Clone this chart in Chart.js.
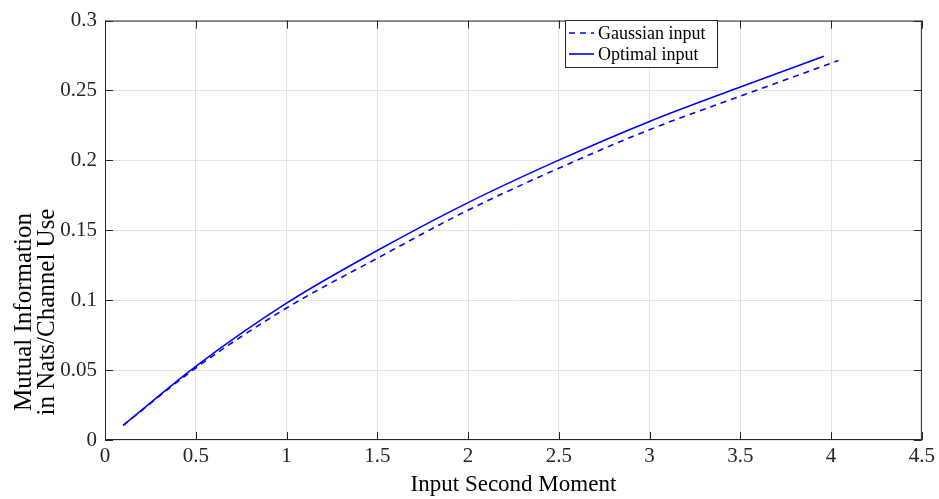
<!DOCTYPE html>
<html>
<head>
<meta charset="utf-8">
<title>Mutual information vs input second moment</title>
<script src="https://cdn.jsdelivr.net/npm/chart.js@4.4.1/dist/chart.umd.min.js"></script>
<style>
  html, body { margin: 0; padding: 0; background: #fff; }
  #wrap { width: 939px; height: 499px; position: relative; }
</style>
</head>
<body>
<div id="wrap"><canvas id="miChart"></canvas></div>
<script>
// curve samples (input second moment -> nats per channel use)
const gaussianX = [0.1, 0.5, 1, 1.5, 2, 2.5, 3, 3.5, 4.04];
const gaussianY = [0.0105, 0.0515, 0.0944, 0.1300, 0.1644, 0.1944, 0.2220, 0.2460, 0.2714];
const optimalX = [0.1, 0.5, 1, 1.5, 2, 2.5, 3, 3.5, 3.96];
const optimalY = [0.0105, 0.0527, 0.0979, 0.1355, 0.1698, 0.2002, 0.2279, 0.2525, 0.2745];
const xTicks = [0, 0.5, 1, 1.5, 2, 2.5, 3, 3.5, 4, 4.5];
const yTicks = [0, 0.05, 0.1, 0.15, 0.2, 0.25, 0.3];
const yTitle = ["Mutual Information", "in Nats/Channel Use"];

const serif = "'Liberation Serif', 'Times New Roman', serif";
const toPoints = (xs, ys) => xs.map((x, i) => ({ x, y: ys[i] }));

// box around the axes plus short inward tick marks
const frame = {
  id: "frame",
  afterDraw(chart) {
    const { ctx, chartArea: a, scales } = chart;
    ctx.save();
    ctx.strokeStyle = "#262626";
    ctx.lineWidth = 1;
    ctx.strokeRect(a.left + 0.5, a.top + 0.5, a.right - a.left - 1, a.bottom - a.top - 1);
    ctx.beginPath();
    xTicks.forEach(v => {
      const px = Math.round(scales.x.getPixelForValue(v)) + 0.5;
      ctx.moveTo(px, a.bottom); ctx.lineTo(px, a.bottom - 8);
      ctx.moveTo(px, a.top); ctx.lineTo(px, a.top + 8);
    });
    yTicks.forEach(v => {
      const py = Math.round(scales.y.getPixelForValue(v)) + 0.5;
      ctx.moveTo(a.left, py); ctx.lineTo(a.left + 8, py);
      ctx.moveTo(a.right, py); ctx.lineTo(a.right - 8, py);
    });
    ctx.stroke();
    ctx.restore();
  }
};

// two-line rotated y-axis title
const sideTitle = {
  id: "sideTitle",
  afterDraw(chart) {
    const { ctx } = chart;
    ctx.save();
    ctx.translate(0, 312);
    ctx.rotate(-Math.PI / 2);
    ctx.font = "25px " + serif;
    ctx.fillStyle = "#000";
    ctx.textAlign = "center";
    ctx.textBaseline = "alphabetic";
    yTitle.forEach((line, i) => ctx.fillText(line, 0, 31 + i * 23));
    ctx.restore();
  }
};

// legend box in the upper part of the plot
const boxLegend = {
  id: "boxLegend",
  afterDraw(chart) {
    const { ctx } = chart;
    const x = 565, y = 20, w = 152, h = 47;
    ctx.save();
    ctx.fillStyle = "#fff";
    ctx.fillRect(x, y, w, h);
    ctx.strokeStyle = "#262626";
    ctx.lineWidth = 1;
    ctx.strokeRect(x + 0.5, y + 0.5, w, h);
    ctx.font = "18px " + serif;
    ctx.textBaseline = "middle";
    chart.data.datasets.forEach((ds, i) => {
      const ly = y + 13 + i * 21;
      ctx.strokeStyle = ds.borderColor;
      ctx.lineWidth = ds.borderWidth;
      ctx.setLineDash(ds.borderDash || []);
      ctx.beginPath();
      ctx.moveTo(x + 4, ly); ctx.lineTo(x + 29, ly);
      ctx.stroke();
      ctx.setLineDash([]);
      ctx.fillStyle = "#000";
      ctx.fillText(ds.label, x + 33, ly + 1);
    });
    ctx.restore();
  }
};

new Chart(document.getElementById("miChart"), {
  type: "line",
  data: {
    datasets: [
      {
        label: "Gaussian input",
        data: toPoints(gaussianX, gaussianY),
        borderColor: "#0000ff",
        borderWidth: 1.6,
        borderDash: [6, 5],
        pointRadius: 0,
        cubicInterpolationMode: "monotone",
        fill: false
      },
      {
        label: "Optimal input",
        data: toPoints(optimalX, optimalY),
        borderColor: "#0000ff",
        borderWidth: 1.6,
        pointRadius: 0,
        cubicInterpolationMode: "monotone",
        fill: false
      }
    ]
  },
  options: {
    responsive: true,
    maintainAspectRatio: false,
    animation: false,
    layout: { padding: { left: 0, right: 17, top: 13, bottom: 0 } },
    plugins: { legend: { display: false }, tooltip: { enabled: false } },
    scales: {
      x: {
        type: "linear",
        min: 0, max: 4.5,
        afterBuildTicks: s => { s.ticks = xTicks.map(v => ({ value: v })); },
        afterFit: s => { s.height = 59; },
        grid: { color: "#e3e3e3", drawTicks: false },
        border: { display: false },
        ticks: { color: "#262626", font: { family: serif, size: 21 }, padding: 4, maxRotation: 0, callback: v => String(v) },
        title: { display: true, text: "Input Second Moment", color: "#000", font: { family: serif, size: 23 }, padding: { top: 3, bottom: 0 } }
      },
      y: {
        type: "linear",
        min: 0, max: 0.3,
        afterBuildTicks: s => { s.ticks = yTicks.map(v => ({ value: v })); },
        afterFit: s => { s.width = 105; },
        grid: { color: "#e3e3e3", drawTicks: false },
        border: { display: false },
        ticks: { color: "#262626", font: { family: serif, size: 21 }, padding: 8, callback: v => String(v) },
        title: { display: false }
      }
    }
  },
  plugins: [frame, sideTitle, boxLegend]
});
</script>
</body>
</html>
